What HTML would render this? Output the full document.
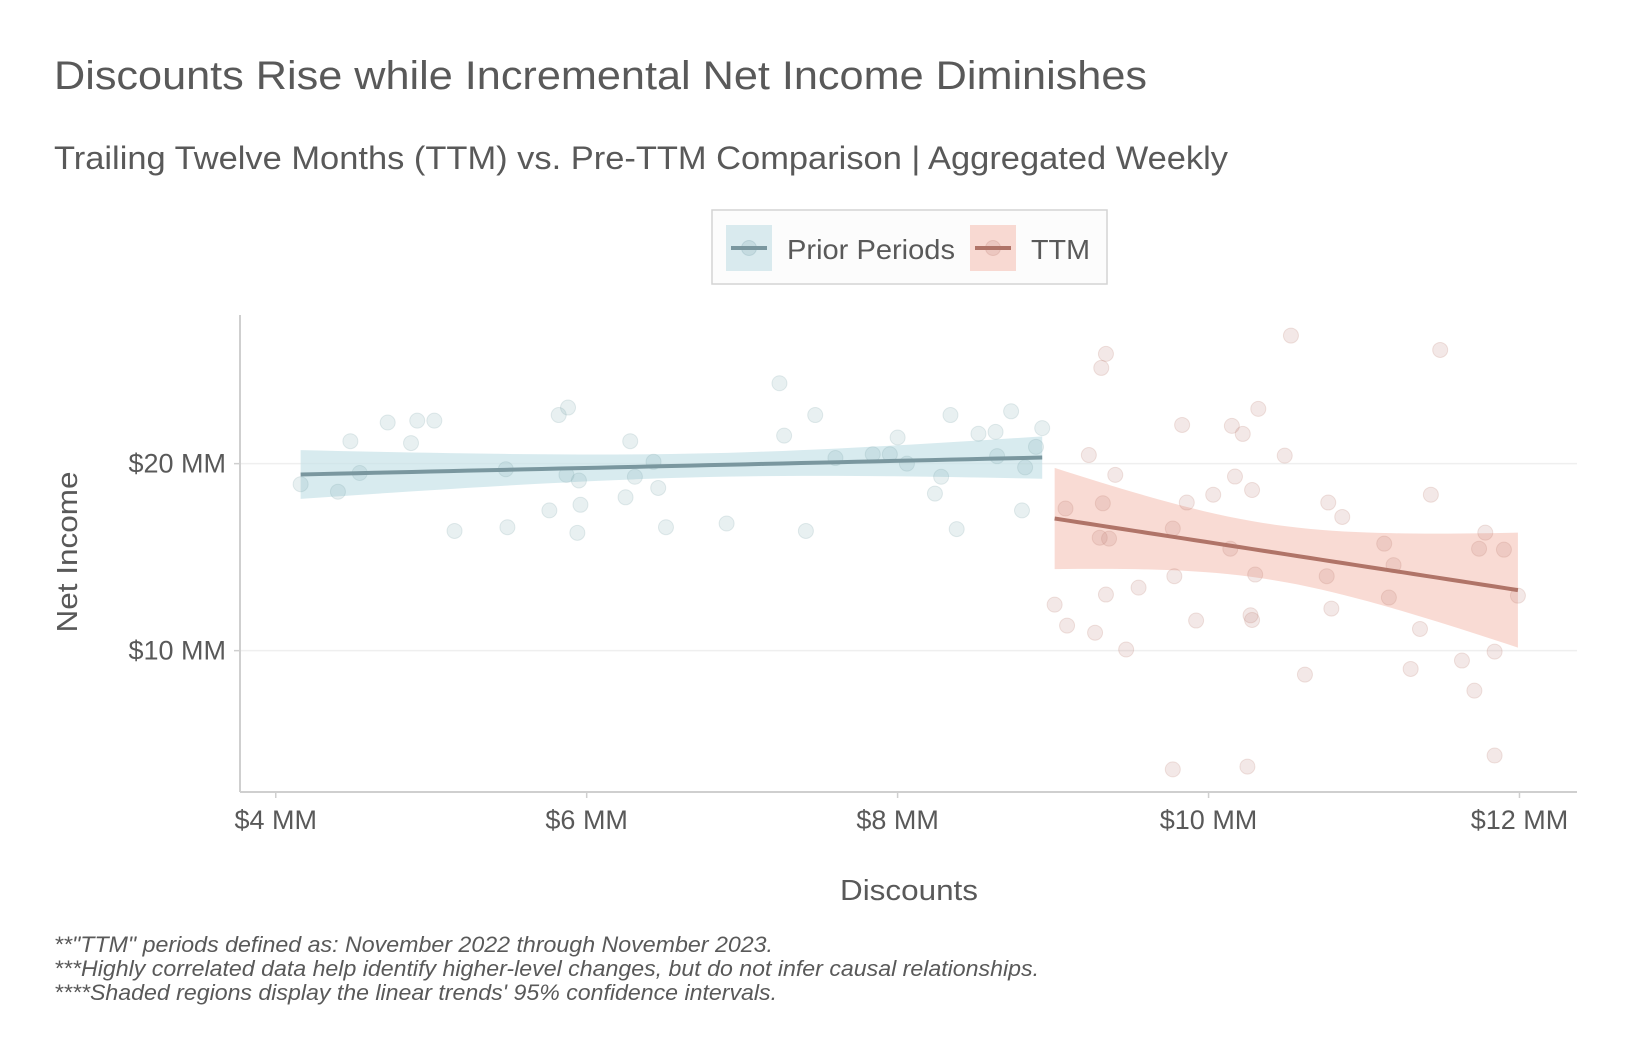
<!DOCTYPE html>
<html><head><meta charset="utf-8"><style>
html,body{margin:0;padding:0;background:#fff;}
svg{display:block;font-family:"Liberation Sans",sans-serif;}
</style></head><body>
<svg id="chart" width="1632" height="1056" viewBox="0 0 1632 1056">
<text x="54" y="89" font-size="40" fill="#595959" textLength="1093" lengthAdjust="spacingAndGlyphs">Discounts Rise while Incremental Net Income Diminishes</text>
<text x="54" y="169" font-size="32" fill="#595959" textLength="1174" lengthAdjust="spacingAndGlyphs">Trailing Twelve Months (TTM) vs. Pre-TTM Comparison | Aggregated Weekly</text>
<g id="plot"></g>
<g>
<rect x="712" y="210" width="395" height="74" fill="#fcfcfc" stroke="#d4d4d4" stroke-width="1.5"/>
<g>
<rect x="726" y="225" width="46" height="46" fill="#d9eaee"/>
<circle cx="749" cy="248" r="7.5" fill="rgba(120,160,170,0.2)" stroke="rgba(120,160,170,0.25)"/>
<line x1="731" y1="248" x2="767" y2="248" stroke="#7a979f" stroke-width="4"/>
<text x="787" y="259" font-size="28" fill="#595959" textLength="168" lengthAdjust="spacingAndGlyphs">Prior Periods</text>
</g>
<g>
<rect x="970" y="225" width="46" height="46" fill="#f8d9d2"/>
<circle cx="993" cy="248" r="7.5" fill="rgba(190,130,120,0.2)" stroke="rgba(190,130,120,0.25)"/>
<line x1="975" y1="248" x2="1011" y2="248" stroke="#b07468" stroke-width="4"/>
<text x="1031" y="259" font-size="28" fill="#595959" textLength="59" lengthAdjust="spacingAndGlyphs">TTM</text>
</g>
</g>
<text x="909" y="900" font-size="29" fill="#595959" text-anchor="middle" textLength="138" lengthAdjust="spacingAndGlyphs">Discounts</text>
<text transform="translate(77,552) rotate(-90)" font-size="29" fill="#595959" text-anchor="middle" textLength="161" lengthAdjust="spacingAndGlyphs">Net Income</text>
<g font-size="22" font-style="italic" fill="#595959">
<text x="54" y="952" textLength="719" lengthAdjust="spacingAndGlyphs">**"TTM" periods defined as: November 2022 through November 2023.</text>
<text x="54" y="976" textLength="985" lengthAdjust="spacingAndGlyphs">***Highly correlated data help identify higher-level changes, but do not infer causal relationships.</text>
<text x="54" y="1000" textLength="723" lengthAdjust="spacingAndGlyphs">****Shaded regions display the linear trends' 95% confidence intervals.</text>
</g>
</svg>
<script>
const priorX=[4.16,4.40,4.48,4.54,4.72,4.87,4.91,5.02,5.15,5.49,5.48,5.76,5.82,5.88,5.87,5.95,5.96,5.94,6.25,6.28,6.31,6.43,6.46,6.51,6.90,7.24,7.27,7.41,7.47,7.60,7.84,7.95,8.00,8.06,8.24,8.28,8.34,8.38,8.52,8.63,8.64,8.73,8.80,8.82,8.89,8.93];
const priorY=[18.9,18.5,21.2,19.5,22.2,21.1,22.3,22.3,16.4,16.6,19.7,17.5,22.6,23.0,19.4,19.1,17.8,16.3,18.2,21.2,19.3,20.1,18.7,16.6,16.8,24.3,21.5,16.4,22.6,20.3,20.5,20.5,21.4,20.0,18.4,19.3,22.6,16.5,21.6,21.7,20.4,22.8,17.5,19.8,20.9,21.9];
const ttmX=[10.53,11.49,9.34,9.31,10.32,9.83,10.15,10.22,9.23,10.49,9.40,10.17,10.28,10.03,11.43,9.86,10.77,9.32,9.08,10.86,9.77,11.78,9.30,9.36,11.13,11.74,11.90,10.14,11.19,10.30,10.76,9.78,9.55,9.34,11.99,11.16,9.01,10.79,9.92,10.27,10.28,9.09,11.36,9.27,9.47,11.84,11.63,10.62,11.30,11.71,11.84,9.77,10.25];
const ttmY=[26.85,26.08,25.87,25.12,22.93,22.07,22.02,21.59,20.46,20.43,19.40,19.31,18.59,18.34,18.34,17.92,17.92,17.88,17.60,17.15,16.53,16.31,16.04,15.99,15.72,15.45,15.40,15.45,14.57,14.07,13.98,13.98,13.37,13.00,12.94,12.84,12.46,12.25,11.61,11.89,11.64,11.34,11.16,10.96,10.06,9.95,9.47,8.72,9.02,7.86,4.39,3.65,3.8];
const xTicks=[4,6,8,10,12];
const xTickLabels=["$4 MM","$6 MM","$8 MM","$10 MM","$12 MM"];
const yTicks=[10,20];
const yTickLabels=["$10 MM","$20 MM"];

const NS="http://www.w3.org/2000/svg";
const P={l:240,r:1577,t:315,b:792};
const xMin=3.77,xMax=12.37,yMin=2.44,yMax=27.95;
const sx=v=>P.l+(v-xMin)/(xMax-xMin)*(P.r-P.l);
const sy=v=>P.b-(v-yMin)/(yMax-yMin)*(P.b-P.t);
const g=document.getElementById('plot');
function mk(tag,attrs,parent){const e=document.createElementNS(NS,tag);for(const k in attrs)e.setAttribute(k,attrs[k]);(parent||g).appendChild(e);return e;}

yTicks.forEach((t,i)=>{
  const gl=mk('line',{x1:P.l,x2:P.r,y1:sy(t),y2:sy(t),stroke:'#efefef','stroke-width':1.5});
  
  
  mk('line',{x1:P.l-6,x2:P.l,y1:sy(t),y2:sy(t),stroke:'#cfcfcf','stroke-width':1.5});
  const tx=mk('text',{x:P.l-14,y:sy(t)+9,'font-size':27,fill:'#595959','text-anchor':'end'});
  tx.textContent=yTickLabels[i];
  
  
});
xTicks.forEach((t,i)=>{
  mk('line',{x1:sx(t),x2:sx(t),y1:P.b,y2:P.b+6,stroke:'#cfcfcf','stroke-width':1.5});
  const tx=mk('text',{x:sx(t),y:P.b+37,'font-size':27,fill:'#595959','text-anchor':'middle'});
  tx.textContent=xTickLabels[i];
  
  
});
const ya=mk('line',{x1:P.l,x2:P.l,y1:P.t,y2:P.b,stroke:'#cfcfcf','stroke-width':2});


const xa=mk('line',{x1:P.l,x2:P.r,y1:P.b,y2:P.b,stroke:'#cfcfcf','stroke-width':2});



function fit(X,Y){
  const n=X.length;let mx=0,my=0;X.forEach((x,i)=>{mx+=x;my+=Y[i];});mx/=n;my/=n;
  let sxx=0,sxy=0;X.forEach((x,i)=>{sxx+=(x-mx)**2;sxy+=(x-mx)*(Y[i]-my);});
  const b=sxy/sxx,a=my-b*mx;let sse=0;X.forEach((x,i)=>{sse+=(Y[i]-a-b*x)**2;});
  const s=Math.sqrt(sse/(n-2));const t=2.01;
  return {a,b,ci:x=>t*s*Math.sqrt(1/n+(x-mx)**2/sxx),lo:Math.min(...X),hi:Math.max(...X)};
}
function series(X,Y,name,band,line,pt,ps){
  const f=fit(X,Y);const N=40;let up=[],dn=[],ln=[];
  for(let i=0;i<=N;i++){const x=f.lo+(f.hi-f.lo)*i/N;const y=f.a+f.b*x,c=f.ci(x);
    up.push(sx(x)+','+sy(y+c));dn.unshift(sx(x)+','+sy(y-c));ln.push(sx(x)+','+sy(y));}
  const bp=mk('polygon',{points:up.concat(dn).join(' '),fill:band});
  
  
  X.forEach((x,i)=>{
    const c=mk('circle',{cx:sx(x),cy:sy(Y[i]),r:7.5,fill:pt,stroke:ps,'stroke-width':1});
    
    
  });
  const tl=mk('polyline',{points:ln.join(' '),fill:'none',stroke:line,'stroke-width':4});
  
  
}
series(priorX,priorY,'prior','rgba(200,226,232,0.7)','#7a979f','rgba(130,170,175,0.18)','rgba(130,170,175,0.22)');
series(ttmX,ttmY,'ttm','rgba(245,195,183,0.6)','#b07468','rgba(190,130,120,0.18)','rgba(190,130,120,0.22)');
</script>
</body></html>
